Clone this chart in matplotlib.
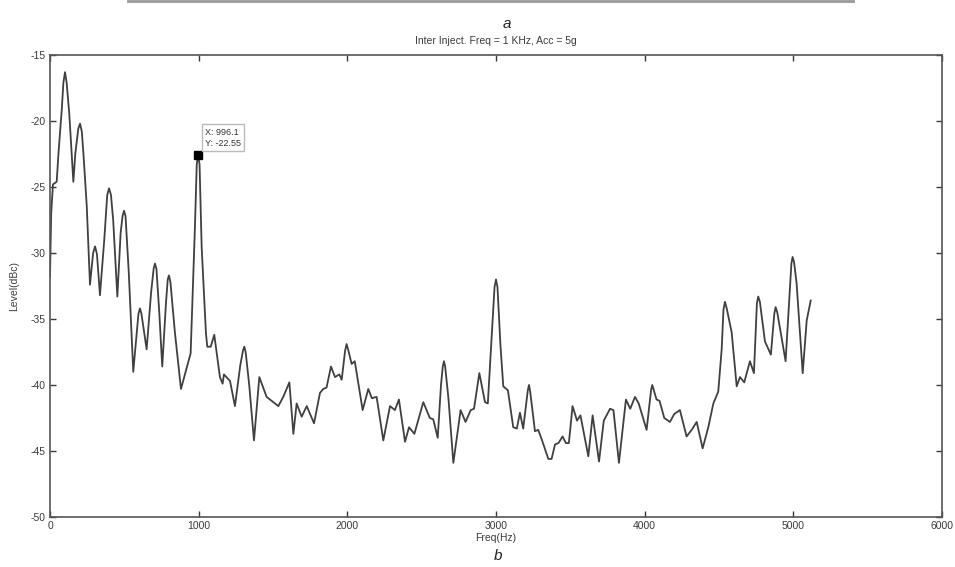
import matplotlib
matplotlib.use("Agg")
import matplotlib.pyplot as plt

plt.rcParams["axes.unicode_minus"] = False

# spectrum (Hz, dBc)
freq = [0, 8, 20, 45, 56, 80, 90, 101, 112, 130, 157, 170, 190, 202, 214, 225,
        247, 269, 290, 303, 316, 336, 365, 385, 397, 410, 425, 453, 475, 488,
        498, 508, 530, 560, 595, 605, 615, 650, 680, 697, 706, 716, 735, 755,
        780, 792, 800, 810, 840, 881, 946, 975, 987, 996, 1006, 1020, 1049,
        1058, 1081, 1105, 1143, 1161, 1170, 1211, 1244, 1280, 1298, 1307, 1316,
        1340, 1372, 1408, 1457, 1536, 1569, 1610, 1637, 1659, 1693, 1727, 1776,
        1816, 1838, 1860, 1890, 1917, 1946, 1962, 1985, 1995, 2005, 2029, 2050,
        2103, 2141, 2165, 2197, 2242, 2287, 2320, 2347, 2388, 2415, 2451, 2511,
        2555, 2578, 2608, 2630, 2642, 2650, 2658, 2680, 2713, 2762, 2795, 2830,
        2852, 2888, 2926, 2945, 2970, 2990, 3000, 3010, 3030, 3049, 3080, 3116,
        3140, 3161, 3183, 3214, 3222, 3230, 3262, 3284, 3310, 3352, 3374, 3397,
        3420, 3448, 3470, 3490, 3515, 3545, 3568, 3621, 3650, 3693, 3725, 3767,
        3790, 3827, 3874, 3903, 3935, 3960, 4013, 4043, 4051, 4080, 4100, 4132,
        4170, 4199, 4237, 4282, 4316, 4350, 4390, 4428, 4462, 4495, 4518, 4530,
        4540, 4552, 4585, 4619, 4641, 4670, 4708, 4735, 4755, 4764, 4775, 4809,
        4849, 4872, 4881, 4892, 4948, 4975, 4987, 4995, 5005, 5022, 5063, 5090,
        5117]
level = [-31.8, -27.0, -24.8, -24.6, -22.6, -19.0, -17.1, -16.3, -17.1, -19.5,
         -24.6, -22.5, -20.6, -20.2, -20.8, -22.5, -26.4, -32.4, -30.0, -29.5,
         -30.1, -33.2, -29.0, -25.6, -25.1, -25.6, -27.5, -33.3, -28.5, -27.2,
         -26.8, -27.2, -31.5, -39.0, -34.6, -34.2, -34.6, -37.3, -33.0, -31.2,
         -30.8, -31.2, -34.5, -38.6, -33.8, -32.0, -31.7, -32.2, -36.0, -40.3,
         -37.6, -28.0, -23.3, -22.55, -23.3, -29.5, -36.1, -37.1, -37.1, -36.2,
         -39.4, -39.9, -39.2, -39.7, -41.6, -38.5, -37.4, -37.1, -37.5, -40.0,
         -44.2, -39.4, -40.9, -41.6, -40.9, -39.8, -43.7, -41.4, -42.4, -41.6,
         -42.9, -40.6, -40.3, -40.2, -38.6, -39.4, -39.2, -39.6, -37.4, -36.9,
         -37.3, -38.4, -38.2, -41.9, -40.3, -41.0, -40.9, -44.2, -41.6, -41.9,
         -41.1, -44.3, -43.2, -43.7, -41.3, -42.5, -42.6, -44.0, -40.0, -38.6,
         -38.2, -38.6, -41.0, -45.9, -41.9, -42.8, -41.9, -41.8, -39.1, -41.3,
         -41.4, -36.5, -32.6, -32.0, -32.6, -37.0, -40.1, -40.4, -43.2, -43.3,
         -42.1, -43.3, -40.4, -40.0, -40.5, -43.5, -43.4, -44.2, -45.6, -45.6,
         -44.5, -44.4, -43.9, -44.4, -44.4, -41.6, -42.7, -42.3, -45.4, -42.3,
         -45.8, -42.7, -41.8, -41.9, -45.9, -41.1, -41.8, -40.9, -41.4, -43.4,
         -40.4, -40.0, -41.1, -41.2, -42.5, -42.8, -42.2, -41.9, -43.9, -43.4,
         -42.8, -44.8, -43.2, -41.4, -40.5, -37.3, -34.3, -33.7, -34.2, -36.0,
         -40.1, -39.4, -39.8, -38.2, -39.1, -33.8, -33.3, -33.7, -36.7, -37.7,
         -34.6, -34.1, -34.5, -38.2, -33.0, -30.8, -30.3, -30.7, -32.3, -39.1,
         -35.1, -33.6]

marker_x = 996.1
marker_y = -22.55

xticks = [0, 1000, 2000, 3000, 4000, 5000, 6000]
yticks = [-50, -45, -40, -35, -30, -25, -20, -15]

W, H = 955, 567
fig = plt.figure(figsize=(W / 100, H / 100), dpi=100)
fig.patch.set_facecolor("white")
ax = fig.add_axes([50 / W, (H - 517) / H, 892 / W, 462 / H])

ink = "#3a3a3a"
ax.plot(freq, level, color="#404040", lw=1.3, solid_joinstyle="round")
ax.plot([marker_x], [marker_y], marker="s", color="black", ms=6, mec="black")
ax.annotate("X: %.1f\nY: %.2f" % (marker_x, marker_y), xy=(marker_x, marker_y),
            xytext=(5, 5), textcoords="offset points", fontsize=6.5,
            color="#333333", family="Liberation Sans", va="bottom", ha="left",
            linespacing=1.3,
            bbox=dict(boxstyle="square,pad=0.35", fc="white", ec="#bbbbbb", lw=1))

ax.set_xlim(0, 6000)
ax.set_ylim(-50, -15)
ax.set_xticks(xticks)
ax.set_yticks(yticks)
ax.tick_params(direction="in", length=4, width=1, top=True, right=True,
               labelsize=7.5, colors=ink, pad=3)
for lab in ax.get_xticklabels() + ax.get_yticklabels():
    lab.set_family("Liberation Sans")
for s in ax.spines.values():
    s.set_color("#555555")
    s.set_linewidth(1.2)

ax.set_title("Inter Inject. Freq = 1 KHz, Acc = 5g", fontsize=7.5, color=ink,
             family="Liberation Sans", pad=8)
ax.set_xlabel("Freq(Hz)", fontsize=7.5, color=ink, family="Liberation Sans",
              labelpad=1)
ax.set_ylabel("Level(dBc)", fontsize=7.5, color=ink, family="Liberation Sans",
              labelpad=8)

# panel captions and the frame edge from the panel above
fig.text(498 / W, 1 - 556 / H, "b", fontsize=11, style="italic", color="#222222",
         family="Liberation Sans", ha="center", va="center")
fig.text(507 / W, 1 - 24 / H, "a", fontsize=11, style="italic", color="#222222",
         family="Liberation Sans", ha="center", va="center")
fig.add_artist(plt.Line2D([128 / W, 853 / W], [1 - 1 / H, 1 - 1 / H],
                          color="#999999", lw=2))

fig.savefig("out.png", dpi=100, facecolor="white")
